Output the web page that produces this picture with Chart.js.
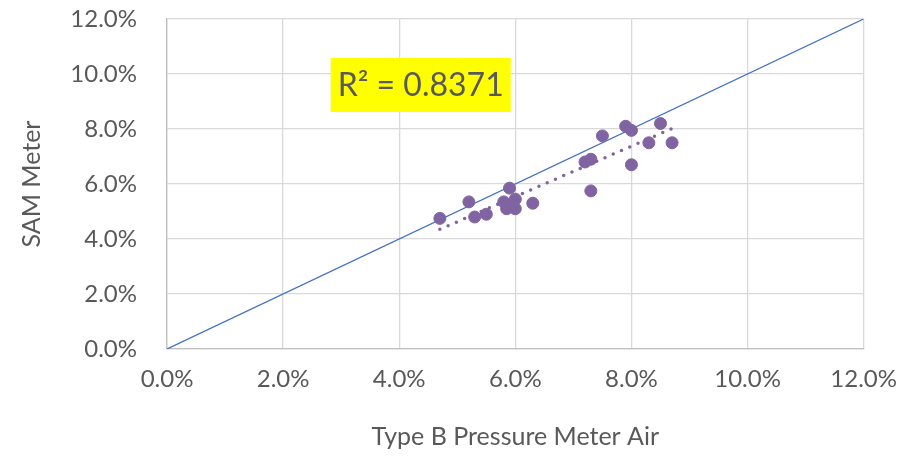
<!DOCTYPE html>
<html>
<head>
<meta charset="utf-8">
<script src="https://cdn.jsdelivr.net/npm/chart.js@4.4.1/dist/chart.umd.min.js"></script>
<style>
  html, body { margin: 0; padding: 0; background: #fff; }
  #wrap { width: 913px; height: 456px; }
</style>
</head>
<body>
<div id="wrap"><canvas id="samChart"></canvas></div>
<script>
// Type B pressure meter air (%) vs SAM meter air (%)
const typeBAir = [4.7, 5.2, 5.3, 5.5, 5.9, 5.8, 6.0, 5.95, 5.85, 6.0, 6.3, 7.3, 7.2, 7.3, 7.5, 7.9, 8.0, 8.0, 8.3, 8.5, 8.7];
const samAir   = [4.75, 5.35, 4.8, 4.9, 5.85, 5.35, 5.45, 5.2, 5.1, 5.1, 5.3, 5.75, 6.8, 6.9, 7.75, 8.1, 7.95, 6.7, 7.5, 8.2, 7.5];
const axisTicks = [0, 2, 4, 6, 8, 10, 12];
const rSquaredText = 'R² = 0.8371';

const points = typeBAir.map((x, i) => ({ x: x, y: samAir[i] }));

// linear trendline (least squares), like Excel's
const n = typeBAir.length;
const mx = typeBAir.reduce((a, b) => a + b, 0) / n;
const my = samAir.reduce((a, b) => a + b, 0) / n;
let sxy = 0, sxx = 0;
for (let i = 0; i < n; i++) {
    sxy += (typeBAir[i] - mx) * (samAir[i] - my);
    sxx += (typeBAir[i] - mx) * (typeBAir[i] - mx);
}
const slope = sxy / sxx;
const icpt = my - slope * mx;
const xMin = Math.min(...typeBAir), xMax = Math.max(...typeBAir);
const trend = [{ x: xMin, y: icpt + slope * xMin }, { x: xMax, y: icpt + slope * xMax }];

const FONT = 'Lato, "Open Sans", sans-serif';
const GREY = '#595959';

// yellow R² label
const r2Label = {
    id: 'r2Label',
    afterDatasetsDraw(chart) {
        const { ctx, scales } = chart;
        const cx = scales.x.getPixelForValue(4.37);
        const cy = scales.y.getPixelForValue(9.6);
        ctx.save();
        ctx.font = '32px ' + FONT;
        const w = ctx.measureText(rSquaredText).width;
        ctx.fillStyle = '#FFFF00';
        ctx.fillRect(cx - w / 2 - 7, cy - 27, w + 14, 54);
        ctx.fillStyle = GREY;
        ctx.textAlign = 'center';
        ctx.textBaseline = 'middle';
        ctx.fillText(rSquaredText, cx, cy + 1);
        ctx.restore();
    }
};

const ctxSam = document.getElementById('samChart').getContext('2d');
const samChart = new Chart(ctxSam, {
    type: 'scatter',
    data: {
        datasets: [{
            label: 'Data',
            data: points,
            backgroundColor: '#8064A2',
            borderColor: '#8064A2',
            pointRadius: 6,
            pointHoverRadius: 6,
            order: 1
        }, {
            label: 'Trend',
            data: trend,
            showLine: true,
            borderColor: '#8064A2',
            borderWidth: 3.5,
            borderDash: [0, 9],
            borderCapStyle: 'round',
            pointRadius: 0,
            order: 2
        }, {
            label: 'Equality',
            data: [{ x: 0, y: 0 }, { x: 12, y: 12 }],
            showLine: true,
            borderColor: '#4472C4',
            borderWidth: 1.3,
            pointRadius: 0,
            order: 3
        }]
    },
    options: {
        responsive: true,
        maintainAspectRatio: false,
        animation: false,
        layout: { padding: { top: 0, right: 49, left: 13, bottom: 0 } },
        plugins: {
            legend: { display: false },
            tooltip: { enabled: false }
        },
        scales: {
            x: {
                type: 'linear',
                min: 0, max: 12,
                afterBuildTicks: (axis) => { axis.ticks = axisTicks.map(v => ({ value: v })); },
                afterFit: (axis) => { axis.height = 107; },
                grid: { color: '#D9D9D9', lineWidth: 1.3, drawTicks: false },
                border: { color: '#BFBFBF', width: 1.3 },
                ticks: {
                    color: GREY, padding: 16,
                    font: { family: FONT, size: 24 },
                    callback: (v) => v.toFixed(1) + '%'
                },
                title: {
                    display: true, text: 'Type B Pressure Meter Air', color: GREY,
                    font: { family: FONT, size: 25 }, padding: { top: 14 }
                }
            },
            y: {
                type: 'linear',
                min: 0, max: 12,
                afterBuildTicks: (axis) => { axis.ticks = axisTicks.map(v => ({ value: v })); },
                afterFit: (axis) => {
                    axis.width = 154;
                    axis.paddingTop = 19;
                    axis.paddingBottom = 0;
                },
                grid: { color: '#D9D9D9', lineWidth: 1.3, drawTicks: false },
                border: { color: '#BFBFBF', width: 1.3 },
                ticks: {
                    color: GREY, padding: 30,
                    font: { family: FONT, size: 24 },
                    callback: (v) => v.toFixed(1) + '%'
                },
                title: {
                    display: true, text: 'SAM Meter', color: GREY,
                    font: { family: FONT, size: 25 }, padding: { bottom: 0 }
                }
            }
        }
    },
    plugins: [r2Label]
});
</script>
</body>
</html>
